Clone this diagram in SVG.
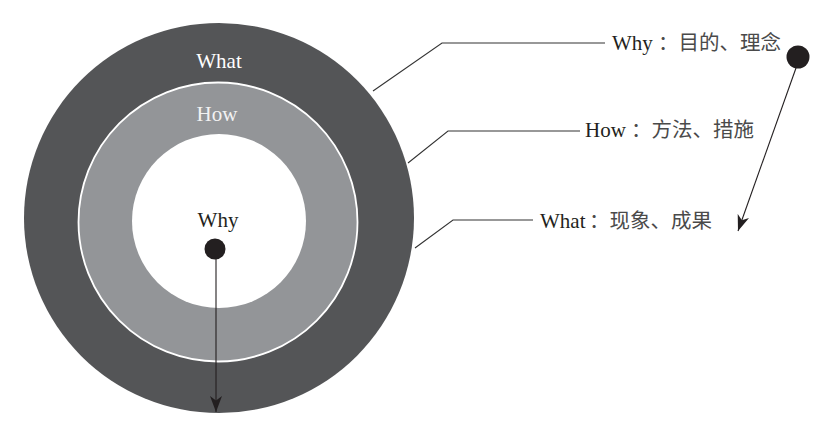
<svg xmlns="http://www.w3.org/2000/svg" width="823" height="421" viewBox="0 0 823 421">
<style>
.lat{font-family:"Liberation Serif","Noto Sans CJK SC",serif;font-size:21px;fill:#231f20}
.cjk{font-family:"Noto Sans CJK SC",sans-serif;font-size:20.5px;fill:#4a4a4a}
.ring{font-family:"Liberation Serif",serif;font-size:21px;text-anchor:middle}
.conn{fill:none;stroke:#333;stroke-width:1.1}
.arr{fill:none;stroke:#231f20;stroke-width:1.1}
</style>
<defs>
<marker id="ah" markerUnits="userSpaceOnUse" markerWidth="18" markerHeight="13" refX="16" refY="6" orient="auto">
<path d="M0,0 L16,6 L0,12 L4.5,6 Z" fill="#231f20"/>
</marker>
</defs>
<rect width="823" height="421" fill="#fff"/>
<g id="outer-what">
<circle cx="219" cy="218" r="195" fill="#545557"/>
<text class="ring" x="219" y="68" fill="#fff">What</text>
</g>
<g id="middle-how">
<circle cx="218" cy="222" r="139.5" fill="#939598" stroke="#fff" stroke-width="1.8"/>
<text class="ring" x="217" y="121" fill="#f2f2f2">How</text>
</g>
<g id="inner-why">
<circle cx="219" cy="221" r="87" fill="#fff"/>
<text class="ring" x="218" y="227" fill="#231f20">Why</text>
<circle cx="215" cy="249" r="10.5" fill="#231f20"/>
</g>
<g id="label-why">
<text class="lat" x="612" y="50">Why<tspan class="cjk" x="658">：目的、理念</tspan></text>
<circle cx="798" cy="57" r="11.5" fill="#231f20"/>
</g>
<g id="label-how">
<text class="lat" x="585" y="137">How<tspan class="cjk" x="631">：方法、措施</tspan></text>
</g>
<g id="label-what">
<text class="lat" x="540" y="228">What<tspan class="cjk" x="589">：现象、成果</tspan></text>
</g>
<g id="connectors">
<polyline class="conn" points="373,91 442,43 605,43"/>
<polyline class="conn" points="408,163 448,131 580,131"/>
<polyline class="conn" points="415,248 453,220 533,220"/>
<line class="arr" x1="216" y1="259" x2="216" y2="412" marker-end="url(#ah)"/>
<line class="arr" x1="796" y1="68" x2="738" y2="231" marker-end="url(#ah)"/>
</g>
</svg>
